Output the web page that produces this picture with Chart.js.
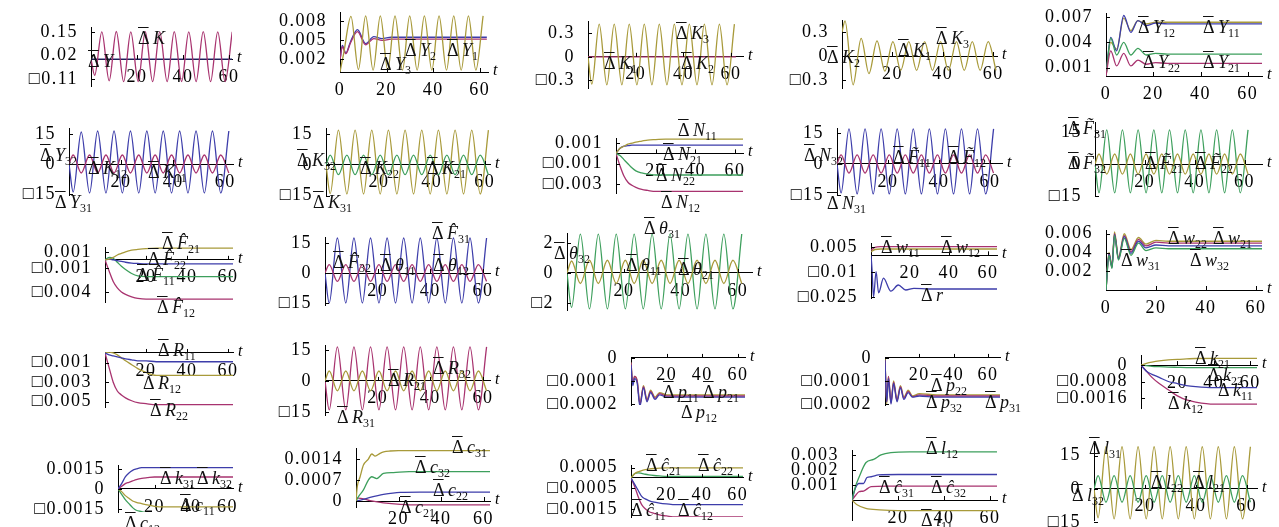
<!DOCTYPE html>
<html>
<head>
<meta charset="utf-8">
<script src="https://cdn.jsdelivr.net/npm/chart.js@4.4.1/dist/chart.umd.min.js"></script>
<style>
    body { margin: 0; background: #fff; }
    #fig { position: relative; width: 1279px; height: 527px; overflow: hidden; background: #fff; }
    #fig canvas { position: absolute; }
    .lab { position: absolute; font: 18px "Liberation Serif", serif; white-space: nowrap; line-height: 1; transform: translateY(-50%); color: #111; }
    .lab i { font-style: italic; }
    .lab sub { font-size: 12px; vertical-align: -4px; line-height: 0; }
    .ob { text-decoration: overline; }
    .tl { position: absolute; font: italic 16px "Liberation Serif", serif; line-height: 1; transform: translateY(-60%); }
</style>
</head>
<body>
<div id="fig"></div>
<script>
// time points of the peaks / troughs of the oscillating responses
const tOsc = [0, 1.6, 4.7, 7.9, 11, 14.2, 17.3, 20.5, 23.6, 26.8, 29.9, 33.1, 36.2, 39.4, 42.5, 45.7, 48.8, 52, 55.1, 58.3, 61.4];
const tOscB = [0, 1.2, 4.4, 7.6, 10.7, 13.9, 17, 20.2, 23.3, 26.5, 29.6, 32.8, 35.9, 39.1, 42.2, 45.4, 48.5, 51.7, 54.8, 58, 61.1];
const tFlat = [0, 62];
const zeroLine = [0, 0];

// row 1
const p1_K = [0, -0.09, 0.15, -0.12, 0.152, -0.125, 0.15, -0.124, 0.151, -0.125, 0.15, -0.125, 0.151, -0.124, 0.15, -0.125, 0.151, -0.125, 0.15, -0.124, 0.15];
const p2_Y3 = [0, 0.003, 0.0088, 0.0004, 0.0089, 0.0003, 0.0089, 0.0003, 0.0089, 0.0003, 0.0089, 0.0003, 0.0089, 0.0003, 0.0089, 0.0003, 0.0089, 0.0003, 0.0089, 0.0003, 0.0089];
const t2 = [0, 1, 2.5, 4.5, 7.5, 11, 14.5, 18, 22, 28, 35, 45, 63];
const p2_Y1 = [0.0019, 0.0042, 0.003, 0.0048, 0.0067, 0.0045, 0.0056, 0.0053, 0.0055, 0.0055, 0.0055, 0.0055, 0.0055];
const p2_Y2 = [0.0019, 0.004, 0.0029, 0.0046, 0.0064, 0.0043, 0.0053, 0.005, 0.0052, 0.0052, 0.0052, 0.0052, 0.0052];
const p3_K3 = [0, -0.35, 0.42, -0.36, 0.42, -0.36, 0.42, -0.36, 0.42, -0.36, 0.42, -0.36, 0.42, -0.36, 0.42, -0.36, 0.42, -0.36, 0.42, -0.36, 0.42];
const p4_K3 = [0.3, 0.44, -0.36, 0.22, -0.22, 0.19, -0.19, 0.18, -0.18, 0.18, -0.18, 0.18, -0.18, 0.18, -0.18, 0.18, -0.18, 0.18, -0.18, 0.18, -0.18];
const t5 = [0, 2, 4.5, 7.5, 10.5, 13.5, 17, 21, 26, 35, 66];
const p5_Y11 = [0, 0.0046, 0.003, 0.0072, 0.0052, 0.0066, 0.006, 0.0063, 0.0062, 0.0062, 0.0062];
const p5_Y12 = [0, 0.004, 0.0032, 0.0069, 0.0054, 0.0066, 0.0062, 0.0064, 0.0064, 0.0064, 0.0064];
const p5_Y22 = [0, 0.0045, 0.0025, 0.004, 0.0025, 0.0033, 0.0025, 0.0027, 0.0026, 0.0026, 0.0026];
const p5_Y21 = [0, 0.003, 0.0012, 0.0027, 0.0012, 0.0019, 0.0014, 0.0016, 0.0015, 0.0015, 0.0015];

// row 2
const p6_Y31 = [0, -14, 16, -14.5, 16.5, -14.5, 16.5, -14.5, 16.5, -14.5, 16.5, -14.5, 16.5, -14.5, 16.5, -14.5, 16.5, -14.5, 16.5, -14.5, 16.5];
const p6_Y32 = [0, 4.5, -4.5, 4.5, -4.5, 4.5, -4.5, 4.5, -4.5, 4.5, -4.5, 4.5, -4.5, 4.5, -4.5, 4.5, -4.5, 4.5, -4.5, 4.5, -4.5];
const p7_K31 = [0, -14, 17, -14.2, 17, -14.2, 17, -14.2, 17, -14.2, 17, -14.2, 17, -14.2, 17, -14.2, 17, -14.2, 17, -14.2, 17];
const p7_K32 = [0, 4.8, -4.8, 4.8, -4.8, 4.8, -4.8, 4.8, -4.8, 4.8, -4.8, 4.8, -4.8, 4.8, -4.8, 4.8, -4.8, 4.8, -4.8, 4.8, -4.8];
const t8 = [0, 2, 4, 6, 8, 10, 13, 16, 20, 25, 30, 40, 64];
const p8_N11 = [0, 0.0005, 0.0007, 0.0009, 0.001, 0.0011, 0.0012, 0.0013, 0.00135, 0.0014, 0.0014, 0.0014, 0.0014];
const p8_N21 = [0, 0.0005, 0.0007, 0.00075, 0.0008, 0.0008, 0.0008, 0.0008, 0.0008, 0.0008, 0.0008, 0.0008, 0.0008];
const p8_N22 = [0, -0.0002, -0.0006, -0.001, -0.0014, -0.0017, -0.0019, -0.002, -0.0021, -0.0021, -0.0021, -0.0021, -0.0021];
const p8_N12 = [0, -0.0012, -0.0022, -0.0028, -0.0031, -0.0033, -0.0035, -0.0036, -0.0037, -0.0037, -0.0037, -0.0037, -0.0037];
const p9_N31 = [0, -14, 17, -14.5, 17, -14.5, 17, -14.5, 17, -14.5, 17, -14.5, 17, -14.5, 17, -14.5, 17, -14.5, 17, -14.5, 17];
const p9_N32 = [0, 4.4, -4.4, 4.4, -4.4, 4.4, -4.4, 4.4, -4.4, 4.4, -4.4, 4.4, -4.4, 4.4, -4.4, 4.4, -4.4, 4.4, -4.4, 4.4, -4.4];
const p10_F31 = [0, -13.5, 16, -13.5, 16, -13.5, 16, -13.5, 16, -13.5, 16, -13.5, 16, -13.5, 16, -13.5, 16, -13.5, 16, -13.5, 16];
const p10_F32 = [0, 4.7, -4.7, 4.7, -4.7, 4.7, -4.7, 4.7, -4.7, 4.7, -4.7, 4.7, -4.7, 4.7, -4.7, 4.7, -4.7, 4.7, -4.7, 4.7, -4.7];

// row 3
const t11 = [0, 2, 4, 6, 8, 10, 13, 16, 20, 25, 30, 40, 63];
const p11_F21 = [0, 0.0001, 0.0003, 0.0006, 0.0008, 0.001, 0.0012, 0.0013, 0.0014, 0.00145, 0.00145, 0.00145, 0.00145];
const p11_F22 = [0, 0.0001, 0, -0.0001, -0.0002, -0.0003, -0.0004, -0.00045, -0.0005, -0.0005, -0.0005, -0.0005, -0.0005];
const p11_F11 = [0, 0.0003, 0.0002, -0.0003, -0.0008, -0.0012, -0.0017, -0.002, -0.0021, -0.0021, -0.0021, -0.0021, -0.0021];
const p11_F12 = [0, -0.0014, -0.0027, -0.0035, -0.004, -0.0043, -0.0046, -0.0048, -0.0049, -0.0049, -0.0049, -0.0049, -0.0049];
const p12_F31 = [0, -15, 17.5, -15, 17.5, -15, 17.5, -15, 17.5, -15, 17.5, -15, 17.5, -15, 17.5, -15, 17.5, -15, 17.5, -15, 17.5];
const p12_F32 = [0, 4.2, -4.2, 4.2, -4.2, 4.2, -4.2, 4.2, -4.2, 4.2, -4.2, 4.2, -4.2, 4.2, -4.2, 4.2, -4.2, 4.2, -4.2, 4.2, -4.2];
const p13_th31 = [0, -2.3, 2.6, -2.4, 2.6, -2.4, 2.6, -2.4, 2.6, -2.4, 2.6, -2.4, 2.6, -2.4, 2.6, -2.4, 2.6, -2.4, 2.6, -2.4, 2.6];
const p13_th32 = [0, 0.8, -0.7, 0.85, -0.7, 0.85, -0.7, 0.85, -0.7, 0.85, -0.7, 0.85, -0.7, 0.85, -0.7, 0.85, -0.7, 0.85, -0.7, 0.85, -0.7];
const t14 = [0, 2, 5, 10, 65];
const p14_w11 = [0.002, 0.0035, 0.0038, 0.0038, 0.0038];
const p14_w12 = [0.003, 0.0048, 0.0052, 0.0052, 0.0052];
const t14r = [0, 0.5, 1.3, 2.6, 3.9, 6.4, 10.2, 14, 17.8, 22, 30, 65];
const p14_r = [0, -0.008, -0.025, -0.0098, -0.0225, -0.0137, -0.0215, -0.0178, -0.0208, -0.0198, -0.0202, -0.0202];
const t15 = [0, 1.2, 2.4, 3.4, 5, 7.3, 10, 13, 16, 20, 25, 35, 63];
const p15_w22 = [0, 0.004, 0.0026, 0.0062, 0.0035, 0.006, 0.0043, 0.0056, 0.0049, 0.0053, 0.0052, 0.0052, 0.0052];
const p15_w21 = [0, 0.0039, 0.0025, 0.006, 0.0034, 0.0058, 0.0041, 0.0054, 0.0047, 0.0051, 0.005, 0.005, 0.005];
const p15_w31 = [0, 0.0038, 0.0024, 0.0059, 0.0033, 0.0057, 0.0039, 0.0052, 0.0045, 0.0048, 0.0047, 0.0047, 0.0047];
const p15_w32 = [0, 0.0037, 0.0023, 0.0058, 0.0032, 0.0055, 0.0037, 0.005, 0.0042, 0.0045, 0.0044, 0.0044, 0.0044];

// row 4
const t16 = [0, 2, 4, 6, 8, 10, 13, 16, 20, 25, 30, 40, 63];
const p16_R11 = [0, -0.0002, -0.0003, -0.0004, -0.0005, -0.0006, -0.0007, -0.0008, -0.0008, -0.0009, -0.0009, -0.0009, -0.0009];
const p16_R12 = [0, 0.0001, 0, -0.0002, -0.0005, -0.0008, -0.0012, -0.0016, -0.002, -0.0023, -0.0023, -0.0023, -0.0023];
const p16_R22 = [0, -0.0015, -0.003, -0.0039, -0.0043, -0.0046, -0.0049, -0.0051, -0.0052, -0.0053, -0.0053, -0.0053, -0.0053];
const p17_R31 = [0, -14, 16.5, -14, 16.5, -14, 16.5, -14, 16.5, -14, 16.5, -14, 16.5, -14, 16.5, -14, 16.5, -14, 16.5, -14, 16.5];
const p17_R32 = [0, 4.8, -4.8, 4.8, -4.8, 4.8, -4.8, 4.8, -4.8, 4.8, -4.8, 4.8, -4.8, 4.8, -4.8, 4.8, -4.8, 4.8, -4.8, 4.8, -4.8];
const t18 = [0, 1, 2, 3.5, 5, 7, 9, 11, 13.5, 16, 20, 30, 64];
const p18_p11 = [-0.00002, -0.00011, -0.00008, -0.0001, -0.0002, -0.00012, -0.00018, -0.00014, -0.00017, -0.00015, -0.00016, -0.00016, -0.00016];
const p18_p12 = [-0.00003, -0.00012, -0.00009, -0.00011, -0.00021, -0.00013, -0.00019, -0.00015, -0.00018, -0.00016, -0.00017, -0.00017, -0.00017];
const p18_p21 = [-0.00002, -0.00011, -0.00008, -0.0001, -0.0002, -0.000125, -0.000185, -0.000145, -0.000175, -0.000155, -0.000165, -0.000165, -0.000165];
const t19 = [0, 1, 2, 3.5, 5, 7, 9, 11, 13.5, 16, 20, 30, 67];
const p19_p22 = [0, -0.0002, -0.00008, -0.00019, -0.0001, -0.00018, -0.00012, -0.00017, -0.00014, -0.000165, -0.000155, -0.00016, -0.00016];
const p19_p32 = [-0.00001, -0.00019, -0.00009, -0.0002, -0.00011, -0.00019, -0.00013, -0.00018, -0.00015, -0.00017, -0.000165, -0.00017, -0.00017];
const p19_p31 = [-0.00001, -0.00019, -0.00008, -0.000195, -0.000105, -0.000185, -0.000125, -0.000175, -0.000145, -0.000168, -0.00016, -0.000165, -0.000165];
const t20 = [0, 3, 6, 10, 15, 20, 25, 30, 40, 64];
const p20_k21 = [0, 0.00008, 0.00014, 0.0002, 0.00025, 0.00028, 0.0003, 0.00032, 0.00033, 0.00033];
const p20_k22 = [0, -0.00003, -0.00006, -0.00008, -0.0001, -0.00011, -0.00012, -0.00012, -0.00012, -0.00012];
const p20_k11 = [0, -0.0003, -0.00045, -0.0006, -0.0008, -0.0009, -0.001, -0.00105, -0.0011, -0.0011];
const p20_k12 = [0, -0.0003, -0.0006, -0.0009, -0.0012, -0.0015, -0.0017, -0.0018, -0.0019, -0.0019];

// row 5
const t21 = [0, 2, 4, 6, 8, 10, 13, 16, 20, 25, 30, 40, 63];
const p21_k31 = [0, 0.0004, 0.0009, 0.0012, 0.0014, 0.0015, 0.0016, 0.0016, 0.0016, 0.0016, 0.0016, 0.0016, 0.0016];
const p21_k32 = [0, 0.0002, 0.0004, 0.0005, 0.0006, 0.0007, 0.0008, 0.00085, 0.0009, 0.0009, 0.0009, 0.0009, 0.0009];
const p21_c11 = [0, -0.0002, -0.0005, -0.0007, -0.0009, -0.001, -0.0011, -0.0012, -0.0013, -0.00135, -0.00135, -0.00135, -0.00135];
const p21_c12 = [0, -0.0004, -0.0008, -0.0011, -0.0014, -0.0016, -0.0017, -0.0018, -0.0019, -0.0019, -0.0019, -0.0019, -0.0019];
const t22a = [0, 0.6, 1.9, 3.5, 5.8, 7.4, 9, 11.3, 13, 16, 20, 63];
const p22_c31 = [0, 0.00048, 0.0008, 0.0012, 0.0014, 0.00157, 0.0015, 0.00159, 0.00164, 0.00167, 0.00168, 0.00168];
const t22b = [0, 1.1, 3.5, 5.8, 7.4, 9.7, 12.9, 17.6, 25, 63];
const p22_c32 = [0, 0.00014, 0.00037, 0.0007, 0.00081, 0.00075, 0.00092, 0.00095, 0.00098, 0.00098];
const t22c = [0, 3, 6.6, 12.9, 20.8, 30, 63];
const p22_c22 = [0, 0.00005, 0.00012, 0.00022, 0.00029, 0.0003, 0.0003];
const p22_c21 = [0.0001, 0.00008, 0.00001, -0.00006, -0.00011, -0.00013, -0.00013];
const t23 = [0, 2, 4, 6, 8, 10, 13, 16, 20, 25, 30, 40, 63];
const p23_c21 = [0, 0.0002, 0.0003, 0.00036, 0.0004, 0.00043, 0.00046, 0.00048, 0.00049, 0.00049, 0.00049, 0.00049, 0.00049];
const p23_c22 = [0, 0.0002, 0.00025, 0.00022, 0.00018, 0.00015, 0.00012, 0.0001, 0.00008, 0.00008, 0.00008, 0.00008, 0.00008];
const p23_c11 = [0, -0.0003, -0.0006, -0.0009, -0.00102, -0.0011, -0.00118, -0.00122, -0.00126, -0.0013, -0.0013, -0.0013, -0.0013];
const p23_c12 = [0, -0.0004, -0.0009, -0.0013, -0.0015, -0.00163, -0.00172, -0.0018, -0.00185, -0.0019, -0.0019, -0.0019, -0.0019];
const t24a = [0, 1.5, 3, 6.1, 9.4, 12.6, 16.9, 25, 63];
const p24_l12 = [0, 0.0009, 0.0015, 0.0025, 0.0027, 0.003, 0.00315, 0.0032, 0.0032];
const t24b = [0, 1.5, 3, 5, 6.5, 8.3, 11.5, 20, 63];
const p24_c31 = [0, 0.0008, 0.0011, 0.0011, 0.0015, 0.00155, 0.00167, 0.0017, 0.0017];
const t24c = [0, 1.5, 3, 5, 8.3, 15, 63];
const p24_c32 = [0, 0.0003, 0.00055, 0.0006, 0.00089, 0.00093, 0.00093];
const t24d = [0, 2, 6, 12, 20, 63];
const p24_l11 = [0, -0.0003, -0.00055, -0.00065, -0.0007, -0.0007];
const p25_l31 = [0, -13, 19, -13.5, 19, -13.5, 19, -13.5, 19, -13.5, 19, -13.5, 19, -13.5, 19, -13.5, 19, -13.5, 19, -13.5, 19];
const p25_l32 = [0, 6, -6, 6, -6, 6, -6, 6, -6, 6, -6, 6, -6, 6, -6, 6, -6, 6, -6, 6, -6];

const MAG = '#a8336f', OLV = '#a89a3a', BLU = '#3d3daa', GRN = '#3d9f5c', NAVY = '#2a2a70';
const X3 = [20, 40, 60], X4 = [0, 20, 40, 60];

// box: [y-axis x, axis end x, top, bottom] in page pixels
const panels = [
    { box: [91, 232, 27, 86], xmax: 61.3, y: [-0.149, 0.177], yt: [-0.11, 0.02, 0.15], xt: X3,
      series: [[tOsc, p1_K, MAG], [tFlat, zeroLine, NAVY]],
      labels: [[138, 38, 'K', ''], [88, 61, 'Y', '']] },
    { box: [340, 488, 12, 72], xmax: 63.5, y: [0, 0.0095], yt: [0.002, 0.005, 0.008], xt: X4,
      series: [[tOsc, p2_Y3, OLV], [t2, p2_Y2, MAG], [t2, p2_Y1, BLU]],
      labels: [[405, 50, 'Y', '2'], [447, 50, 'Y', '1'], [380, 64, 'Y', '3']] },
    { box: [588, 743, 21, 88], xmax: 65, y: [-0.40, 0.46], yt: [-0.3, 0, 0.3], xt: X3,
      series: [[tOsc, p3_K3, OLV], [tFlat, zeroLine, MAG]],
      labels: [[676, 33, 'K', '3'], [604, 63, 'K', '1'], [681, 63, 'K', '2']] },
    { box: [842, 997, 20, 88], xmax: 61.5, y: [-0.40, 0.45], yt: [-0.3, 0, 0.3], xt: X3,
      series: [[tOscB, p4_K3, OLV]],
      labels: [[827, 57, 'K', '2'], [898, 50, 'K', '1'], [936, 38, 'K', '3']] },
    { box: [1106, 1262, 13, 76], xmax: 66, y: [0, 0.0075], yt: [0.001, 0.004, 0.007], xt: X4,
      series: [[t5, p5_Y21, MAG], [t5, p5_Y22, GRN], [t5, p5_Y11, BLU], [t5, p5_Y12, OLV]],
      labels: [[1138, 27, 'Y', '12'], [1203, 27, 'Y', '11'], [1143, 62, 'Y', '22'], [1203, 62, 'Y', '21']] },

    { box: [69, 233, 128, 195], xmax: 63, y: [-15.5, 18], yt: [-15, 0, 15], xt: X3,
      series: [[tOsc, p6_Y32, MAG], [tOsc, p6_Y31, BLU]],
      labels: [[40, 155, 'Y', '32'], [55, 202, 'Y', '31'], [88, 168, 'K', '12'], [148, 172, 'K', '11']] },
    { box: [326, 490, 128, 195], xmax: 62, y: [-14.7, 18], yt: [-15, 0, 15], xt: X3,
      series: [[tOsc, p7_K32, GRN], [tOsc, p7_K31, OLV]],
      labels: [[297, 160, 'K', '32'], [313, 202, 'K', '31'], [360, 168, 'K', '22'], [427, 168, 'K', '21']] },
    { box: [616, 743, 138, 193], xmax: 64, y: [-0.00385, 0.0015], yt: [-0.003, -0.001, 0.001], xt: X3,
      series: [[t8, p8_N11, OLV], [t8, p8_N21, BLU], [t8, p8_N22, GRN], [t8, p8_N12, MAG]],
      labels: [[678, 130, 'N', '11'], [663, 154, 'N', '21'], [656, 175, 'N', '22'], [661, 202, 'N', '12']] },
    { box: [837, 1002, 128, 195], xmax: 64.7, y: [-15, 17.4], yt: [-15, 0, 15], xt: X3,
      series: [[tOsc, p9_N32, MAG], [tOsc, p9_N31, BLU]],
      labels: [[804, 155, 'N', '32'], [827, 203, 'N', '31'], [893, 157, 'F', '11', 'w'], [948, 157, 'F', '12', 'w']] },
    { box: [1095, 1262, 122, 195], xmax: 67, y: [-14.5, 19.7], yt: [-15, 0, 15], xt: X3,
      series: [[tOsc, p10_F32, OLV], [tOsc, p10_F31, GRN]],
      labels: [[1068, 128, 'F', '31', 'w'], [1068, 163, 'F', '32', 'w'], [1145, 163, 'F', '21', 'w'], [1195, 163, 'F', '22', 'w']] },

    { box: [105, 233, 247, 302], xmax: 62.4, y: [-0.00525, 0.0016], yt: [-0.004, -0.001, 0.001], xt: X3,
      series: [[t11, p11_F21, OLV], [t11, p11_F22, BLU], [t11, p11_F11, GRN], [t11, p11_F12, MAG]],
      labels: [[162, 243, 'F', '21', 'h'], [148, 259, 'F', '22', 'h'], [137, 275, 'F', '11', 'h'], [157, 307, 'F', '12', 'h']] },
    { box: [325, 490, 237, 305], xmax: 62.7, y: [-16, 18], yt: [-15, 0, 15], xt: X3,
      series: [[tOsc, p12_F32, MAG], [tOsc, p12_F31, BLU]],
      labels: [[432, 233, 'F', '31', 'h'], [333, 262, 'F', '32', 'h'], [380, 265, 'θ', '11'], [433, 265, 'θ', '12']] },
    { box: [567, 752, 233, 310], xmax: 65, y: [-2.47, 2.67], yt: [-2, 0, 2], xt: X3,
      series: [[tOsc, p13_th32, OLV], [tOsc, p13_th31, GRN]],
      labels: [[644, 228, 'θ', '31'], [554, 253, 'θ', '32'], [626, 265, 'θ', '11'], [678, 269, 'θ', '21']] },
    { box: [871, 997, 243, 298], xmax: 64.6, y: [-0.0256, 0.0074], yt: [-0.025, -0.01, 0.005], xt: X3,
      series: [[t14, p14_w11, OLV], [t14, p14_w12, MAG], [t14r, p14_r, BLU]],
      labels: [[881, 247, 'w', '11'], [941, 247, 'w', '12'], [921, 295, 'r', '']] },
    { box: [1106, 1262, 230, 290], xmax: 62.4, y: [0, 0.0064], yt: [0.002, 0.004, 0.006], xt: X4,
      series: [[t15, p15_w32, GRN], [t15, p15_w31, BLU], [t15, p15_w21, MAG], [t15, p15_w22, OLV]],
      labels: [[1168, 238, 'w', '22'], [1213, 238, 'w', '21'], [1121, 260, 'w', '31'], [1190, 260, 'w', '32']] },

    { box: [105, 233, 352, 407], xmax: 62.4, y: [-0.00554, 0.0001], yt: [-0.005, -0.003, -0.001], xt: X3,
      series: [[t16, p16_R11, BLU], [t16, p16_R12, OLV], [t16, p16_R22, MAG]],
      labels: [[158, 350, 'R', '11'], [143, 383, 'R', '12'], [150, 410, 'R', '22']] },
    { box: [325, 490, 345, 415], xmax: 62.7, y: [-16.5, 17.4], yt: [-15, 0, 15], xt: X3,
      series: [[tOsc, p17_R32, OLV], [tOsc, p17_R31, MAG]],
      labels: [[433, 368, 'R', '32'], [337, 417, 'R', '31'], [388, 380, 'R', '21']] },
    { box: [631, 745, 357, 405], xmax: 64, y: [-0.000204, 0.000004], yt: [-0.0002, -0.0001, 0], xt: X3,
      series: [[t18, p18_p12, BLU], [t18, p18_p21, MAG], [t18, p18_p11, OLV]],
      labels: [[663, 392, 'p', '11'], [703, 392, 'p', '21'], [681, 412, 'p', '12']] },
    { box: [885, 1000, 357, 405], xmax: 67, y: [-0.000204, 0.000004], yt: [-0.0002, -0.0001, 0], xt: X3,
      series: [[t19, p19_p32, BLU], [t19, p19_p31, MAG], [t19, p19_p22, OLV]],
      labels: [[931, 385, 'p', '22'], [926, 402, 'p', '32'], [985, 402, 'p', '31']] },
    { box: [1141, 1257, 355, 408], xmax: 63.7, y: [-0.00209, 0.00049], yt: [-0.0016, -0.0008, 0], xt: X3,
      series: [[t20, p20_k21, OLV], [t20, p20_k22, GRN], [t20, p20_k11, BLU], [t20, p20_k12, MAG]],
      labels: [[1195, 358, 'k', '21'], [1208, 375, 'k', '22'], [1218, 390, 'k', '11'], [1168, 403, 'k', '12']] },

    { box: [118, 233, 465, 512], xmax: 63, y: [-0.00173, 0.0018], yt: [-0.0015, 0, 0.0015], xt: X3,
      series: [[t21, p21_k31, BLU], [t21, p21_k32, MAG], [t21, p21_c11, OLV], [t21, p21_c12, GRN]],
      labels: [[160, 478, 'k', '31'], [197, 478, 'k', '32'], [180, 505, 'c', '11'], [125, 523, 'c', '12']] },
    { box: [356, 490, 448, 507], xmax: 63, y: [-0.0002, 0.00177], yt: [0, 0.0007, 0.0014], xt: X3,
      series: [[t22a, p22_c31, OLV], [t22b, p22_c32, GRN], [t22c, p22_c22, BLU], [t22c, p22_c21, MAG]],
      labels: [[452, 447, 'c', '31'], [415, 467, 'c', '32'], [433, 490, 'c', '22'], [400, 507, 'c', '21']] },
    { box: [631, 743, 465, 517], xmax: 63, y: [-0.0019, 0.00063], yt: [-0.0015, -0.0005, 0.0005], xt: X3,
      series: [[t23, p23_c21, OLV], [t23, p23_c22, GRN], [t23, p23_c11, BLU], [t23, p23_c12, MAG]],
      labels: [[646, 465, 'c', '21', 'h'], [698, 465, 'c', '22', 'h'], [631, 510, 'c', '11', 'h'], [678, 510, 'c', '12', 'h']] },
    { box: [852, 997, 450, 520], xmax: 63, y: [-0.00133, 0.00333], yt: [0.001, 0.002, 0.003], xt: X3,
      series: [[t24a, p24_l12, GRN], [t24b, p24_c31, BLU], [t24c, p24_c32, MAG], [t24d, p24_l11, OLV]],
      labels: [[926, 448, 'l', '12'], [879, 487, 'c', '31', 'h'], [931, 487, 'c', '32', 'h'], [921, 520, 'l', '11']] },
    { box: [1094, 1257, 443, 520], xmax: 64, y: [-14, 20.7], yt: [-15, 0, 15], xt: X3,
      series: [[tOsc, p25_l32, GRN], [tOsc, p25_l31, OLV]],
      labels: [[1089, 448, 'l', '31'], [1072, 495, 'l', '32'], [1151, 482, 'l', '22'], [1193, 482, 'l', '21']] }
];

const fig = document.getElementById('fig');
const FONT = { family: '"Liberation Serif", serif', size: 18 };

function fmt(v) {
    const s = String(Math.abs(v));
    return v < 0 ? '\u25A1' + s : s;
}

// small inward tick marks, like the original
const innerTicks = {
    id: 'innerTicks',
    afterDraw(chart) {
        const { ctx, chartArea: a, scales: { x, y } } = chart;
        const y0 = y.getPixelForValue(0);
        ctx.save();
        ctx.strokeStyle = '#000';
        ctx.lineWidth = 1;
        ctx.beginPath();
        y.ticks.forEach(t => {
            const py = Math.round(y.getPixelForValue(t.value)) + 0.5;
            ctx.moveTo(a.left, py);
            ctx.lineTo(a.left + 4, py);
        });
        x.ticks.forEach(t => {
            if (t.value === 0) return;
            const px = Math.round(x.getPixelForValue(t.value)) + 0.5;
            ctx.moveTo(px, y0);
            ctx.lineTo(px, y0 - 4);
        });
        ctx.stroke();
        ctx.restore();
    }
};

// the original tick numbers are set with wide letter spacing
const spacedText = {
    id: 'spacedText',
    beforeDraw(chart) { chart.ctx.letterSpacing = '1.5px'; },
    afterDraw(chart) { chart.ctx.letterSpacing = '0px'; }
};

function labelHtml(letter, sub, acc) {
    let l = letter;
    if (acc === 'h') l += '\u0302';
    if (acc === 'w') l += '\u0303';
    return '<span class="ob">\u0394</span> <i>' + l + '</i>' + (sub ? '<sub>' + sub + '</sub>' : '');
}

panels.forEach(p => {
    // L is the width given to the y axis box (tick labels are clipped to it)
    const L = 95, T = 14, R = 14, B = 34;
    const [x0, x1, top, bottom] = p.box;
    const cv = document.createElement('canvas');
    cv.width = x1 - x0 + L + R;
    cv.height = bottom - top + T + B;
    cv.style.left = (x0 - L) + 'px';
    cv.style.top = (top - T) + 'px';
    fig.appendChild(cv);

    const chart = new Chart(cv, {
        type: 'line',
        data: {
            datasets: p.series.map(([t, v, c]) => ({
                data: t.map((tv, i) => ({ x: tv, y: v[i] })),
                borderColor: c,
                borderWidth: 1.3,
                pointRadius: 0,
                cubicInterpolationMode: 'monotone',
                fill: false
            }))
        },
        options: {
            responsive: false,
            animation: false,
            devicePixelRatio: 1,
            layout: { padding: { left: 0, top: T, right: R, bottom: B } },
            plugins: { legend: { display: false }, tooltip: { enabled: false } },
            scales: {
                x: {
                    type: 'linear', min: 0, max: p.xmax,
                    position: { y: 0 },
                    grid: { drawOnChartArea: false, drawTicks: false },
                    border: { display: true, color: '#000', width: 1 },
                    afterBuildTicks: s => { s.ticks = p.xt.map(v => ({ value: v })); },
                    afterFit: s => { s.paddingLeft = 0; s.paddingRight = 0; },
                    ticks: { font: FONT, color: '#000', padding: 7, autoSkip: false, maxRotation: 0, callback: v => fmt(v) }
                },
                y: {
                    type: 'linear', min: p.y[0], max: p.y[1],
                    position: 'left',
                    grid: { drawOnChartArea: false, drawTicks: false },
                    border: { display: true, color: '#000', width: 1 },
                    afterBuildTicks: s => { s.ticks = p.yt.map(v => ({ value: v })); },
                    afterFit: s => { s.width = L; s.paddingTop = 0; s.paddingBottom = 0; },
                    ticks: { font: FONT, color: '#000', padding: 13, autoSkip: false, callback: v => fmt(v) }
                }
            }
        },
        plugins: [spacedText, innerTicks]
    });

    // axis name "t" at the end of the time axis
    const ty = chart.scales.y.getPixelForValue(0) + top - T;
    const tl = document.createElement('div');
    tl.className = 'tl';
    tl.textContent = 't';
    tl.style.left = (x1 + 5) + 'px';
    tl.style.top = ty + 'px';
    fig.appendChild(tl);

    p.labels.forEach(([lx, ly, letter, sub, acc]) => {
        const d = document.createElement('div');
        d.className = 'lab';
        d.style.left = lx + 'px';
        d.style.top = ly + 'px';
        d.innerHTML = labelHtml(letter, sub, acc);
        fig.appendChild(d);
    });
});
</script>
</body>
</html>
